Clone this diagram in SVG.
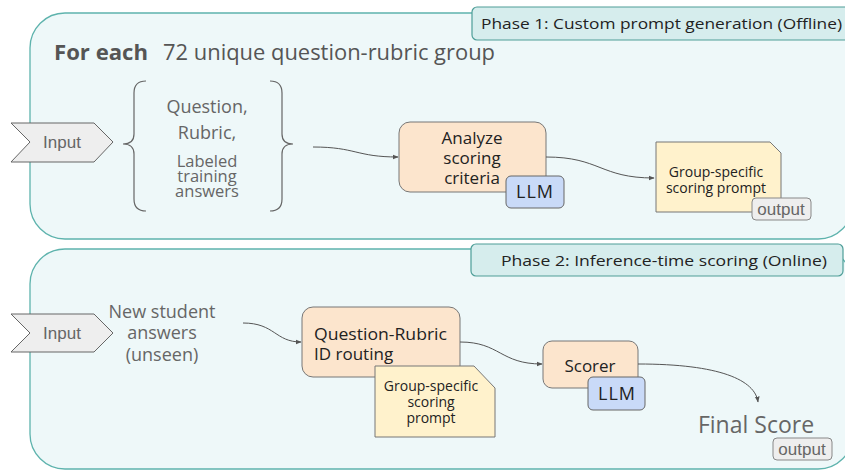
<svg xmlns="http://www.w3.org/2000/svg" width="845" height="471" viewBox="0 0 845 471">
<defs>
<marker id="arr" viewBox="0 0 10 10" refX="9" refY="5" markerWidth="6" markerHeight="6" orient="auto-start-reverse" markerUnits="userSpaceOnUse">
<path d="M0,1 L10,5 L0,9 z" fill="#555"/>
</marker>
<style>
text{font-family:"Open Sans","Liberation Sans",sans-serif;}
.panel{fill:#eef8f9;stroke:#5eb3ad;stroke-width:1.3;}
.tab{fill:#d6eded;stroke:#4e9e98;stroke-width:1.2;}
.tabt{font-size:15px;fill:#222;}
.box{fill:#fce5cd;stroke:#777;stroke-width:1;}
.llm{fill:#c9daf8;stroke:#666;stroke-width:1;}
.doc{fill:#fff2cc;stroke:#777;stroke-width:1;}
.badge{fill:#eeeeee;stroke:#888;stroke-width:1;}
.badget{font-family:"Liberation Sans",sans-serif;font-size:17px;fill:#666;text-anchor:middle;}
.chev{fill:#eeeeee;stroke:#666;stroke-width:1;}
.gray{fill:#666;font-size:18px;text-anchor:middle;}
.tight{font-size:16.5px;}
.inp{font-family:"Liberation Sans",sans-serif;fill:#666;font-size:17px;text-anchor:middle;}
.dark{fill:#222;font-size:17px;}
.mid{text-anchor:middle;}
.llmt{fill:#222;font-size:18px;text-anchor:middle;letter-spacing:1px;}
.small{fill:#222;font-size:14px;text-anchor:middle;}
.conn{fill:none;stroke:#555;stroke-width:1;marker-end:url(#arr);}
.brace{fill:none;stroke:#666;stroke-width:1.2;}
</style>
</defs>

<g id="phase1">
<rect class="panel" x="30" y="13" width="823" height="226" rx="35"/>
<rect class="tab" x="472" y="7" width="385" height="33" rx="5"/>
<text class="tabt" x="481" y="29" textLength="361" lengthAdjust="spacingAndGlyphs">Phase 1: Custom prompt generation (Offline)</text>
<text x="54" y="60" font-size="21" font-weight="bold" fill="#555" textLength="94" lengthAdjust="spacingAndGlyphs">For each</text>
<text x="163" y="60" font-size="21" fill="#555" textLength="332" lengthAdjust="spacingAndGlyphs">72 unique question-rubric group</text>
</g>

<g id="phase2">
<rect class="panel" x="30" y="249" width="823" height="220" rx="35"/>
<rect class="tab" x="471" y="244" width="372" height="32" rx="5"/>
<text class="tabt" x="501" y="266" textLength="326" lengthAdjust="spacingAndGlyphs">Phase 2: Inference-time scoring (Online)</text>
</g>

<g id="input1">
<path class="chev" d="M11,123 L94,123 L113,142 L94,162 L11,162 L30,142 Z"/>
<text class="inp" x="62" y="148">Input</text>
</g>

<g id="inputs-brace">
<path class="brace" d="M146,81 Q134,81 134,93 L134,134 Q134,144 123,144 Q134,144 134,154 L134,199 Q134,211 146,211"/>
<path class="brace" d="M270,81 Q282,81 282,93 L282,134 Q282,144 293,144 Q282,144 282,154 L282,199 Q282,211 270,211"/>
<text class="gray" x="207" y="113">Question,</text>
<text class="gray" x="207" y="139">Rubric,</text>
<text class="gray tight" x="207" y="167">Labeled</text>
<text class="gray tight" x="207" y="182">training</text>
<text class="gray tight" x="207" y="197">answers</text>
</g>

<g id="analyze">
<rect class="box" x="399" y="122" width="147" height="70" rx="11"/>
<text class="dark mid" x="472" y="144">Analyze</text>
<text class="dark mid" x="472" y="164">scoring</text>
<text class="dark mid" x="472" y="184">criteria</text>
<rect class="llm" x="506" y="176" width="58" height="32" rx="5"/>
<text class="llmt" x="535" y="198">LLM</text>
</g>

<g id="prompt1">
<path class="doc" d="M656,142 L770,142 L781,153 L781,212 L656,212 Z"/>
<text class="small" x="716" y="177">Group-specific</text>
<text class="small" x="716" y="193">scoring prompt</text>
<rect class="badge" x="752" y="198" width="59" height="22" rx="4"/>
<text class="badget" x="781" y="215">output</text>
</g>

<g id="input2">
<path class="chev" d="M11,314 L94,314 L113,333 L94,352 L11,352 L30,333 Z"/>
<text class="inp" x="62" y="339">Input</text>
<text class="gray" x="162" y="318">New student</text>
<text class="gray" x="162" y="339">answers</text>
<text class="gray" x="162" y="361">(unseen)</text>
</g>

<g id="routing">
<rect class="box" x="302" y="307" width="158" height="70" rx="11"/>
<text class="dark" x="314" y="340" textLength="133" lengthAdjust="spacingAndGlyphs">Question-Rubric</text>
<text class="dark" x="314" y="360">ID routing</text>
</g>

<g id="prompt2">
<path class="doc" d="M375,366 L474,366 L495,388 L495,437 L375,437 Z"/>
<text class="small" x="431" y="391">Group-specific</text>
<text class="small" x="431" y="407">scoring</text>
<text class="small" x="431" y="423">prompt</text>
</g>

<g id="scorer">
<rect class="box" x="543" y="341" width="95" height="47" rx="9"/>
<text class="dark mid" x="590" y="372" font-size="18.5">Scorer</text>
<rect class="llm" x="588" y="377" width="57" height="33" rx="5"/>
<text class="llmt" x="617" y="400">LLM</text>
</g>

<g id="final">
<text x="756" y="433" font-size="23" fill="#666" text-anchor="middle">Final Score</text>
<rect class="badge" x="773" y="438" width="59" height="22" rx="4"/>
<text class="badget" x="802" y="455">output</text>
</g>

<g id="connectors">
<path class="conn" d="M313,147 C356,147 356,157 398,157"/>
<path class="conn" d="M546,157 C600,157 600,178 654,178"/>
<path class="conn" d="M243,323 C275,323 275,342 301,342"/>
<path class="conn" d="M460,342 C500,342 500,364 542,364"/>
<path class="conn" d="M638,364 C720,364 755,380 758,402"/>
</g>
</svg>
